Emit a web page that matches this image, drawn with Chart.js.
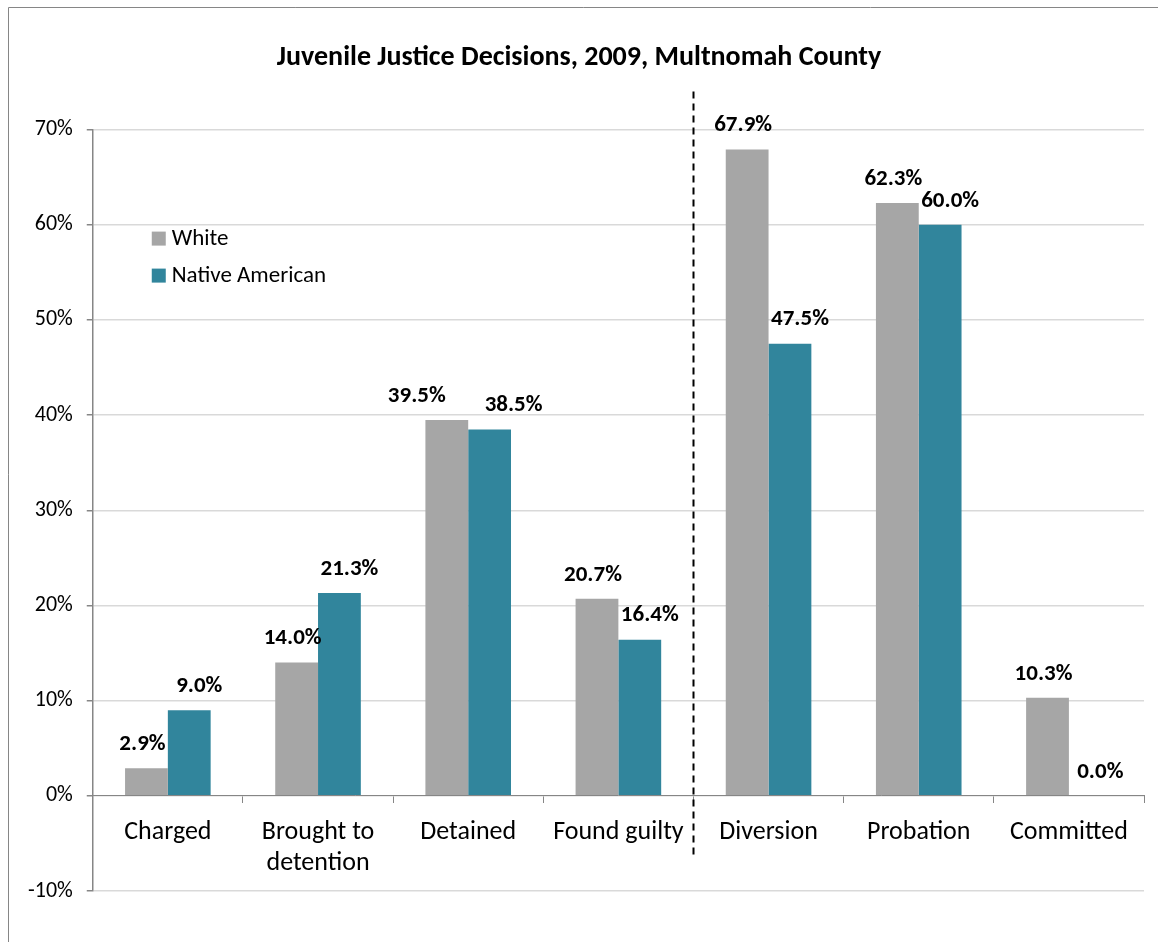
<!DOCTYPE html>
<html>
<head>
<meta charset="utf-8">
<script src="https://cdn.jsdelivr.net/npm/chart.js@4.4.1/dist/chart.umd.min.js"></script>
<style>
  html, body { margin: 0; padding: 0; background: #fff; }
  #wrap { width: 1158px; height: 942px; position: relative; }
</style>
</head>
<body>
<div id="wrap"><canvas id="justiceChart"></canvas></div>
<script>
// data
const categories = ['Charged', ['Brought to', 'detention'], 'Detained', 'Found guilty', 'Diversion', 'Probation', 'Committed'];
const white = [2.9, 14.0, 39.5, 20.7, 67.9, 62.3, 10.3];
const nativeAmerican = [9.0, 21.3, 38.5, 16.4, 47.5, 60.0, 0.0];
const yTicks = [-10, 0, 10, 20, 30, 40, 50, 60, 70];
const splitAfter = 3; // dashed line after "Found guilty"

const FONT = "Carlito, Calibri, Lato, 'Open Sans', sans-serif";
const GREY = '#a6a6a6';
const TEAL = '#31859c';

// frame round the chart (left + top edges visible)
const framePlugin = {
  id: 'frame',
  beforeDraw(chart) {
    const c = chart.ctx;
    c.save();
    c.strokeStyle = '#868686';
    c.lineWidth = 1;
    c.beginPath();
    c.moveTo(8.5, chart.height);
    c.lineTo(8.5, 7.5);
    c.lineTo(chart.width, 7.5);
    c.stroke();
    c.restore();
  }
};

// value labels above bars
const valueLabels = {
  id: 'valueLabels',
  afterDatasetsDraw(chart) {
    const c = chart.ctx;
    const m0 = chart.getDatasetMeta(0);
    const m1 = chart.getDatasetMeta(1);
    c.save();
    c.font = 'bold 23px ' + FONT;
    c.fillStyle = '#000';
    c.textAlign = 'center';
    c.textBaseline = 'middle';
    categories.forEach((cat, i) => {
      const a = m0.data[i], b = m1.data[i];
      let shiftA = -4, shiftB = 10;
      // push labels apart when they would collide
      if (Math.abs(a.y - b.y) < 15) { shiftA = -30; shiftB = 24; }
      c.fillText(white[i].toFixed(1) + '%', a.x + shiftA, a.y - 24);
      c.fillText(nativeAmerican[i].toFixed(1) + '%', b.x + shiftB, b.y - 24);
    });
    c.restore();
  }
};

// dashed separator + legend inside the plot
const extras = {
  id: 'extras',
  afterDraw(chart) {
    const c = chart.ctx;
    const x = chart.scales.x;
    const area = chart.chartArea;
    const sx = Math.round((x.getPixelForValue(splitAfter) + x.getPixelForValue(splitAfter + 1)) / 2) + 0.5;
    c.save();
    c.strokeStyle = '#000';
    c.lineWidth = 2;
    c.setLineDash([7, 5]);
    c.beginPath();
    c.moveTo(sx, area.top - 38);
    c.lineTo(sx, chart.scales.y.getPixelForValue(0) + 62);
    c.stroke();
    c.setLineDash([]);

    // legend
    const items = [['White', GREY], ['Native American', TEAL]];
    c.font = '23px ' + FONT;
    c.textBaseline = 'middle';
    c.textAlign = 'left';
    items.forEach((it, k) => {
      const ly = area.top + 109 + k * 37;
      c.fillStyle = it[1];
      c.fillRect(area.left + 59, ly - 7, 14, 14);
      c.fillStyle = '#000';
      c.fillText(it[0], area.left + 79, ly + 1);
    });
    c.restore();
  }
};

const ctx = document.getElementById('justiceChart').getContext('2d');
new Chart(ctx, {
  type: 'bar',
  data: {
    labels: categories,
    datasets: [
      { label: 'White', data: white, backgroundColor: GREY, categoryPercentage: 0.57, barPercentage: 1.0 },
      { label: 'Native American', data: nativeAmerican, backgroundColor: TEAL, categoryPercentage: 0.57, barPercentage: 1.0 }
    ]
  },
  options: {
    responsive: true,
    maintainAspectRatio: false,
    animation: false,
    layout: { padding: { left: 14, right: 14, top: 8, bottom: 51 } },
    plugins: {
      legend: { display: false },
      tooltip: { enabled: false },
      title: {
        display: true,
        text: 'Juvenile Justice Decisions, 2009, Multnomah County',
        color: '#000',
        font: { family: FONT, size: 28, weight: 'bold' },
        padding: { top: 33, bottom: 55 }
      }
    },
    scales: {
      x: {
        position: { y: 0 },
        grid: {
          offset: true,
          drawOnChartArea: false,
          drawTicks: true,
          tickLength: 7,
          color: '#868686'
        },
        border: { color: '#868686', width: 1 },
        ticks: {
          color: '#000',
          padding: 14,
          maxRotation: 0,
          font: { family: FONT, size: 26, lineHeight: 1.2 }
        }
      },
      y: {
        min: -10,
        max: 70,
        afterBuildTicks(axis) { axis.ticks = yTicks.map(v => ({ value: v })); },
        grid: { color: '#d9d9d9', tickColor: '#868686', tickLength: 6, lineWidth: 1.5 },
        border: { color: '#868686', width: 1.5 },
        ticks: {
          color: '#000',
          padding: 14,
          font: { family: FONT, size: 22 },
          callback: v => v + '%'
        }
      }
    }
  },
  plugins: [framePlugin, valueLabels, extras]
});
</script>
</body>
</html>
